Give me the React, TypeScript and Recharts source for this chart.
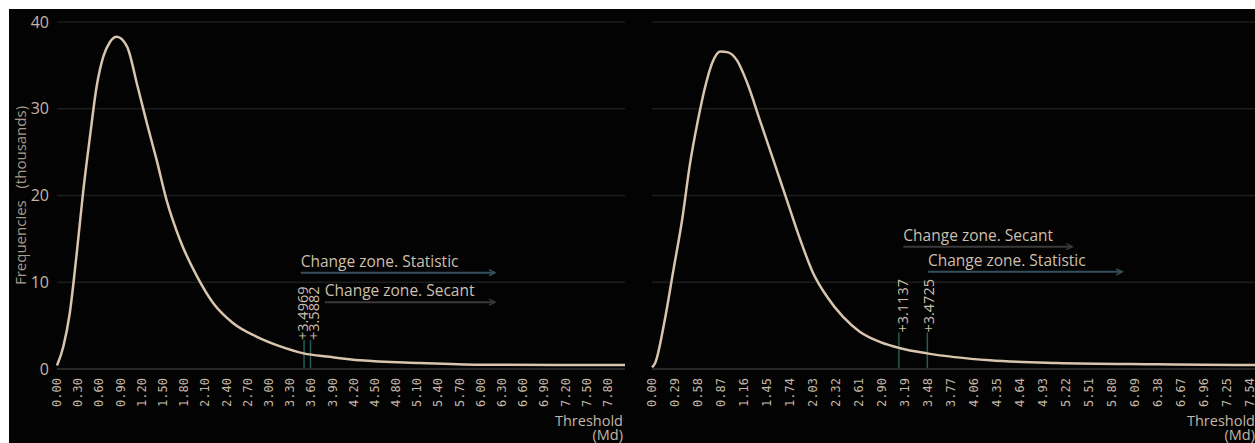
import {
  LineChart,
  Line,
  XAxis,
  YAxis,
  CartesianGrid,
  ReferenceLine,
  Label,
} from 'recharts'

// left panel: threshold / frequency (thousands)
const leftX = [0, 0.09, 0.18, 0.28, 0.37, 0.47, 0.56, 0.655, 0.75, 0.845, 0.99, 1.14, 1.27, 1.41, 1.55, 1.74, 1.98, 2.21, 2.49, 2.83, 3.16, 3.49, 3.86, 4.29, 5.14, 5.99, 7.1, 8.04]
const leftY = [0.4, 2.6, 6.4, 13.4, 20.4, 27.0, 32.5, 36.0, 37.7, 38.3, 37.2, 32.6, 28.4, 24.1, 19.5, 14.9, 10.7, 7.6, 5.3, 3.7, 2.6, 1.8, 1.4, 1.0, 0.7, 0.5, 0.45, 0.45]

// right panel
const rightX = [0, 0.04, 0.16, 0.27, 0.38, 0.48, 0.58, 0.67, 0.76, 0.86, 0.96, 1.07, 1.2, 1.36, 1.53, 1.7, 1.87, 2.03, 2.21, 2.41, 2.62, 2.88, 3.13, 3.47, 4.26, 5.1, 6.37, 7.63]
const rightY = [0.2, 0.7, 5.6, 11.4, 17.2, 23.7, 28.7, 32.5, 35.3, 36.6, 36.5, 35.6, 33.0, 28.7, 24.1, 19.5, 14.9, 11.1, 8.3, 6.0, 4.3, 3.1, 2.4, 1.8, 1.0, 0.7, 0.55, 0.45]

const leftTicks = [0, 0.3, 0.6, 0.9, 1.2, 1.5, 1.8, 2.1, 2.4, 2.7, 3.0, 3.3, 3.6, 3.9, 4.2, 4.5, 4.8, 5.1, 5.4, 5.7, 6.0, 6.3, 6.6, 6.9, 7.2, 7.5, 7.8]
const rightTicks = [0, 0.29, 0.58, 0.87, 1.16, 1.45, 1.74, 2.03, 2.32, 2.61, 2.9, 3.19, 3.48, 3.77, 4.06, 4.35, 4.64, 4.93, 5.22, 5.51, 5.8, 6.09, 6.38, 6.67, 6.96, 7.25, 7.54]
const yTicks = [0, 10, 20, 30, 40]

const leftMarks = [3.4969, 3.5882]
const rightMarks = [3.1137, 3.4725]

const leftZoneNames = ['Change zone. Statistic', 'Change zone. Secant']
const leftZoneStart = [3.45, 3.79]
const leftZoneEnd = [6.2, 6.2]
const leftZoneLevel = [11.1, 7.7]

const rightZoneNames = ['Change zone. Secant', 'Change zone. Statistic']
const rightZoneStart = [3.17, 3.48]
const rightZoneEnd = [5.3, 5.93]
const rightZoneLevel = [14.1, 11.2]

const TEXT = '#c4b7a6'
const SANS = '"Open Sans", sans-serif'
const MONO = '"DejaVu Sans Mono", monospace'

function XTick({ x, y, payload }: any) {
  return (
    <text
      x={x}
      y={y + 1}
      transform={`rotate(-90 ${x} ${y + 1})`}
      textAnchor="end"
      dominantBaseline="central"
      fill={TEXT}
      fontFamily={MONO}
      fontSize={12}
    >
      {Number(payload.value).toFixed(2)}
    </text>
  )
}

function zoneShape(name: string) {
  const color = name.includes('Statistic') ? '#34505f' : '#3a3a3a'
  return (p: any) => (
    <g>
      <line x1={p.x1} y1={p.y1} x2={p.x2} y2={p.y2} stroke={color} strokeWidth={2} />
      <path
        d={`M${p.x2 - 6} ${p.y2 - 3} L${p.x2} ${p.y2} L${p.x2 - 6} ${p.y2 + 3}`}
        stroke={color}
        strokeWidth={1.5}
        fill="none"
      />
      <text x={p.x1} y={p.y1 - 6} fill="#cdbfad" fontFamily={SANS} fontSize={15.5}>
        {name}
      </text>
    </g>
  )
}

// labels are nudged sideways so neighbouring ones do not collide
function markShape(value: number, dx: number) {
  return (p: any) => {
    const top = Math.min(p.y1, p.y2)
    const bottom = Math.max(p.y1, p.y2)
    const lx = p.x1 + dx
    return (
      <g>
        <line x1={p.x1} y1={top} x2={p.x1} y2={bottom} stroke="#265c57" strokeWidth={1.5} />
        <text
          x={lx}
          y={top}
          transform={`rotate(-90 ${lx} ${top})`}
          textAnchor="start"
          dominantBaseline="central"
          fill="#cdbfad"
          fontFamily={SANS}
          fontSize={14.5}
        >
          {'+' + value.toFixed(4)}
        </text>
      </g>
    )
  }
}

function Panel({
  xs,
  ys,
  ticks,
  maxX,
  marks,
  markTop,
  markDx,
  zoneNames,
  zoneStart,
  zoneEnd,
  zoneLevel,
  showY,
  width,
  margin,
}: any) {
  const data = xs.map((x: number, i: number) => ({ x, y: ys[i] }))
  return (
    <LineChart width={width} height={434} data={data} margin={margin}>
      <CartesianGrid vertical={false} stroke="#1d1d1d" strokeWidth={1.5} />
      <XAxis
        dataKey="x"
        type="number"
        domain={[0, maxX]}
        ticks={ticks}
        interval={0}
        tick={<XTick />}
        tickLine={false}
        axisLine={{ stroke: '#262626', strokeWidth: 2 }}
        height={74}
      >
        <Label
          content={(p: any) => {
            const vb = p.viewBox
            const rx = vb.x + vb.width - 2
            return (
              <g fill={TEXT} fontFamily={SANS} fontSize={14.5}>
                <text x={rx} y={vb.y + 57} textAnchor="end">Threshold</text>
                <text x={rx} y={vb.y + 71} textAnchor="end">(Md)</text>
              </g>
            )
          }}
        />
      </XAxis>
      <YAxis
        type="number"
        domain={[0, 40]}
        ticks={yTicks}
        hide={!showY}
        width={48}
        tickLine={false}
        axisLine={false}
        tick={{ fill: TEXT, fontFamily: SANS, fontSize: 16 }}
      >
        {showY && (
          <Label
            content={(p: any) => {
              const vb = p.viewBox
              const cx = 11
              const cy = vb.y + vb.height / 2
              return (
                <text
                  x={cx}
                  y={cy}
                  transform={`rotate(-90 ${cx} ${cy})`}
                  textAnchor="middle"
                  dominantBaseline="central"
                  fill="#a89c8c"
                  fontFamily={SANS}
                  fontSize={15}
                  style={{ whiteSpace: 'pre' }}
                >
                  {'Frequencies   (thousands)'}
                </text>
              )
            }}
          />
        )}
      </YAxis>
      {zoneNames.map((name: string, i: number) => (
        <ReferenceLine
          key={name}
          segment={[
            { x: zoneStart[i], y: zoneLevel[i] },
            { x: zoneEnd[i], y: zoneLevel[i] },
          ]}
          shape={zoneShape(name)}
        />
      ))}
      {marks.map((m: number, i: number) => (
        <ReferenceLine
          key={m}
          segment={[
            { x: m, y: 0 },
            { x: m, y: markTop },
          ]}
          shape={markShape(m, markDx[i])}
        />
      ))}
      <Line
        type="monotone"
        dataKey="y"
        stroke="#d9c4ad"
        strokeWidth={2.5}
        dot={false}
        isAnimationActive={false}
      />
    </LineChart>
  )
}

export default function App() {
  return (
    <div
      style={{
        position: 'absolute',
        left: 9,
        top: 9,
        width: 1246,
        height: 434,
        background: '#030303',
        overflow: 'hidden',
      }}
    >
      <div style={{ position: 'absolute', left: 0, top: 0 }}>
        <Panel
          xs={leftX}
          ys={leftY}
          ticks={leftTicks}
          maxX={8.04}
          marks={leftMarks}
          markTop={3.34}
          markDx={[-1.5, 3.5]}
          zoneNames={leftZoneNames}
          zoneStart={leftZoneStart}
          zoneEnd={leftZoneEnd}
          zoneLevel={leftZoneLevel}
          showY
          width={630}
          margin={{ top: 13, right: 14, left: 0, bottom: 0 }}
        />
      </div>
      <div style={{ position: 'absolute', left: 630, top: 0 }}>
        <Panel
          xs={rightX}
          ys={rightY}
          ticks={rightTicks}
          maxX={7.63}
          marks={rightMarks}
          markTop={4.2}
          markDx={[3.5, 1]}
          zoneNames={rightZoneNames}
          zoneStart={rightZoneStart}
          zoneEnd={rightZoneEnd}
          zoneLevel={rightZoneLevel}
          showY={false}
          width={630}
          margin={{ top: 13, right: 12, left: 13, bottom: 0 }}
        />
      </div>
    </div>
  )
}
